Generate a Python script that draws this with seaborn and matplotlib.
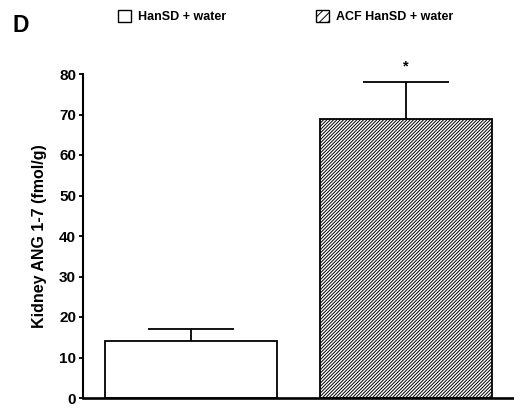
import numpy as np
import matplotlib
matplotlib.use("Agg")
import matplotlib.pyplot as plt
from matplotlib.patches import Patch
import seaborn as sns
import pandas as pd

# ---- data ----
groups = ["HanSD + water", "ACF HanSD + water"]
means = [14.0, 69.0]
sem = [3.0, 9.0]
hatches = ["", "//////////"]
yticks = [0, 10, 20, 30, 40, 50, 60, 70, 80]
ylabel = "Kidney ANG 1-7 (fmol/g)"
panel = "D"
sig_marks = ["", "*"]

sns.set_style("ticks")
plt.rcParams["font.family"] = ["Liberation Sans", "DejaVu Sans"]
plt.rcParams["font.weight"] = "bold"
plt.rcParams["hatch.linewidth"] = 0.7
for k in ["text.color", "axes.labelcolor", "xtick.color", "ytick.color", "axes.edgecolor"]:
    plt.rcParams[k] = "black"

df = pd.DataFrame({"group": groups, "value": means})

fig = plt.figure(figsize=(5.14, 4.08), dpi=100)
ax = fig.add_axes([83 / 514, 10 / 408, (514 - 83) / 514, (398 - 74) / 408])

sns.barplot(data=df, x="group", y="value", hue="group", palette=["white", "white"],
            edgecolor="black", linewidth=1.3, width=0.8, legend=False, ax=ax,
            errorbar=None)
for p, h in zip(ax.patches, hatches):
    p.set_hatch(h)

x = np.arange(len(groups))
tops = np.array(means) + np.array(sem)
ax.vlines(x, means, tops, color="black", lw=1.3, zorder=3)
ax.hlines(tops, x - 0.2, x + 0.2, color="black", lw=1.3, zorder=3)
for xi, t, s in zip(x, tops, sig_marks):
    if s:
        ax.text(xi, t + 3.8, s, ha="center", va="center", fontsize=10.5, fontweight="bold")

ax.set_xlim(-0.5, 1.5)
ax.set_ylim(0, 80)
ax.set_yticks(yticks)
ax.set_yticklabels([str(v) for v in yticks], fontsize=11, fontweight="bold")
ax.set_xticks([])
ax.set_xlabel("")
ax.set_ylabel(ylabel, fontsize=11.5, fontweight="bold", labelpad=9)
ax.tick_params(axis="y", direction="out", length=3, width=1.3, pad=2, colors="black")
for side in ["top", "right"]:
    ax.spines[side].set_visible(False)
ax.spines["left"].set_linewidth(1.5)
ax.spines["bottom"].set_linewidth(1.9)
ax.set_facecolor("white")

handles = [Patch(facecolor="white", edgecolor="black", hatch=h, lw=1.0) for h in ["", "////"]]
fig.legend(handles, groups, loc="upper left", bbox_to_anchor=(112 / 514, 1 - 4 / 408),
           ncol=2, frameon=False, borderpad=0, handlelength=1.04,
           handleheight=1.04, handletextpad=0.5, columnspacing=7.25,
           prop={"weight": "bold", "size": 9})

fig.text(13 / 514, 1 - 32 / 408, panel, fontsize=16.5, fontweight="bold", va="baseline")

fig.savefig("out.png", dpi=100, facecolor="white")
